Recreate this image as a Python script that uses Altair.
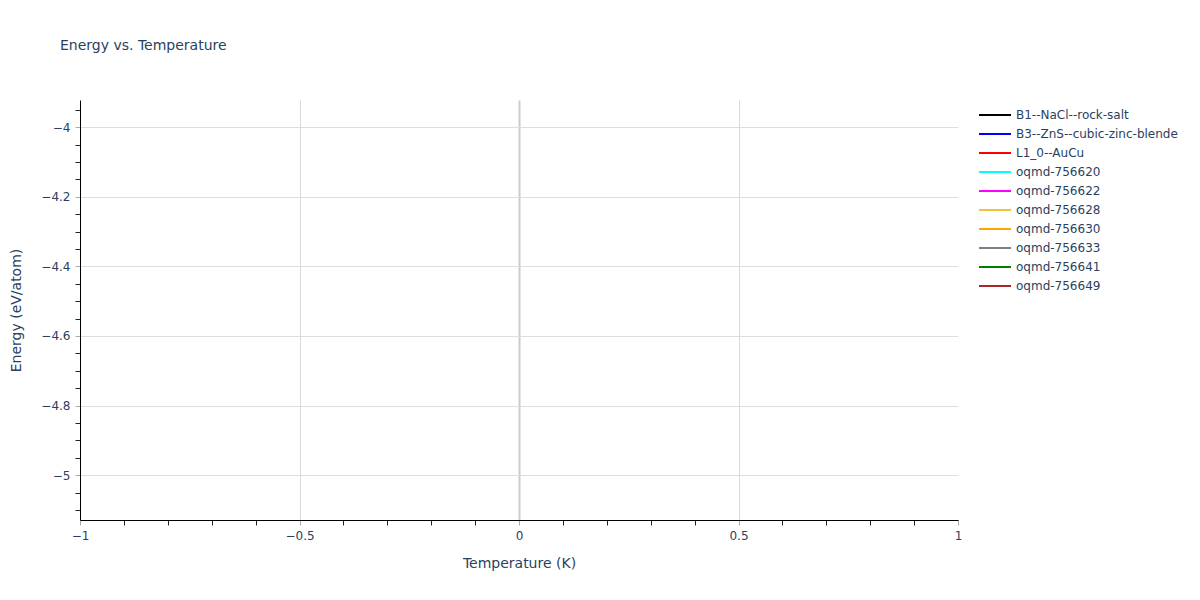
import pandas as pd
import altair as alt

# Series shown in the legend (plotly colour names)
structures = [
    'B1--NaCl--rock-salt', 'B3--ZnS--cubic-zinc-blende', 'L1_0--AuCu',
    'oqmd-756620', 'oqmd-756622', 'oqmd-756628', 'oqmd-756630',
    'oqmd-756633', 'oqmd-756641', 'oqmd-756649',
]
line_colors = [
    'black', 'blue', 'red', 'cyan', 'magenta', '#eec23a',
    'orange', 'gray', 'green', '#a52a2a',
]
# every structure has a single point at T = 0, so no line segment is drawn
temperatures = [0, 0, 0, 0, 0, 0, 0, 0, 0, 0]
energies = [-3.922, -4.31, -5.129, -4.62, -4.87, -4.55, -4.71, -4.98, -4.43, -5.05]

df = pd.DataFrame({'Structure': structures, 'Temperature': temperatures, 'Energy': energies})

x_ticks = [round(-1 + 0.1 * i, 1) for i in range(21)]
y_ticks = [round(-3.95 - 0.05 * i, 2) for i in range(24)]

text_color = '#2a3f5f'
font = 'DejaVu Sans'

x_major = 'abs(round(datum.value*10)) % 5 == 0'
y_major = 'abs(round(datum.value*100)) % 20 == 0'

x_axis = alt.Axis(
    values=x_ticks,
    format='.2~f',
    labelExpr=f"{x_major} ? datum.label : ''",
    labelFlush=False,
    grid=True,
    gridOpacity={'condition': {'test': f'{x_major} && abs(datum.value) < 0.99', 'value': 1}, 'value': 0},
    gridWidth={'condition': {'test': 'datum.value == 0', 'value': 2}, 'value': 1},
    gridColor={'condition': {'test': 'datum.value == 0', 'value': '#cccccc'}, 'value': '#d9d9d9'},
    tickColor={'condition': {'test': x_major, 'value': '#aaaaaa'}, 'value': '#222222'},
    tickSize=5,
    domainColor='black',
    labelPadding=5,
    titlePadding=15,
)

y_axis = alt.Axis(
    values=y_ticks,
    format='.2~f',
    labelExpr=f"{y_major} ? datum.label : ''",
    labelFlush=False,
    grid=True,
    gridOpacity={'condition': {'test': y_major, 'value': 1}, 'value': 0},
    gridColor='#dedede',
    tickColor={'condition': {'test': y_major, 'value': '#aaaaaa'}, 'value': '#222222'},
    tickSize=5,
    domainColor='black',
    labelPadding=5,
    titlePadding=17,
)

chart = (
    alt.Chart(df)
    .mark_line(strokeWidth=2)
    .encode(
        x=alt.X('Temperature:Q', title='Temperature (K)',
                scale=alt.Scale(domain=[-1, 1], nice=False, zero=False), axis=x_axis),
        y=alt.Y('Energy:Q', title='Energy (eV/atom)',
                scale=alt.Scale(domain=[min(energies), max(energies)], nice=False, zero=False),
                axis=y_axis),
        color=alt.Color(
            'Structure:N',
            scale=alt.Scale(domain=structures, range=line_colors),
            legend=alt.Legend(
                title=None,
                orient='none',
                legendX=904.5,
                legendY=4.5,
                symbolType='M-1.684,0H1.684',
                symbolSize=361,
                symbolStrokeWidth=2,
                labelOffset=10.5,
                rowPadding=2,
                padding=0,
                labelFontSize=12,
                labelColor=text_color,
                labelFont=font,
                labelLimit=300,
            ),
        ),
    )
    .properties(
        width=878,
        height=420,
        title=alt.TitleParams(
            'Energy vs. Temperature',
            anchor='start',
            frame='group',
            dx=-20,
            offset=32,
            baseline='alphabetic',
            fontSize=14,
            fontWeight='normal',
            font=font,
            color=text_color,
        ),
        autosize=alt.AutoSizeParams(type='none'),
        padding={'left': 72, 'top': 92, 'right': 234, 'bottom': 70},
    )
    .configure_view(stroke=None)
    .configure_axis(
        labelFont=font,
        labelFontSize=12,
        labelColor=text_color,
        titleFont=font,
        titleFontSize=14,
        titleFontWeight='normal',
        titleColor=text_color,
    )
)

chart.save('out.html', embed_options={'renderer': 'svg', 'actions': False})
